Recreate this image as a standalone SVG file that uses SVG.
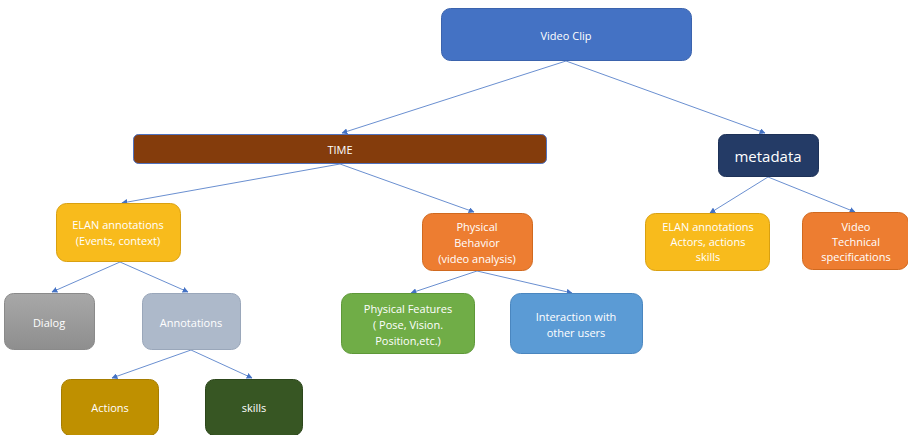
<svg xmlns="http://www.w3.org/2000/svg" width="908" height="435" viewBox="0 0 908 435">
  <style>
    .box { stroke-width: 1; }
    .lbl { font-family: "Open Sans", "Liberation Sans", sans-serif; font-size: 11px; fill: #ffffff; text-anchor: middle; dominant-baseline: central; }
    .big { font-size: 15px; }
    .edge { stroke: #4472C4; stroke-width: 0.8; fill: none; marker-end: url(#arr); }
  </style>
  <defs>
    <marker id="arr" viewBox="0 0 10 10" refX="9" refY="5" markerWidth="6" markerHeight="6" markerUnits="userSpaceOnUse" orient="auto">
      <path d="M0,0 L10,5 L0,10 z" fill="#4472C4"/>
    </marker>
    <linearGradient id="greyFill" x1="0" y1="0" x2="0" y2="1">
      <stop offset="0" stop-color="#A8A8A8"/>
      <stop offset="1" stop-color="#8E8E8E"/>
    </linearGradient>
  </defs>
  <rect width="908" height="435" fill="#ffffff"/>

  <g id="connectors">
    <line class="edge" x1="566" y1="61" x2="342" y2="133"/>
    <line class="edge" x1="566" y1="61" x2="765" y2="133"/>
    <line class="edge" x1="340" y1="164" x2="122" y2="203"/>
    <line class="edge" x1="340" y1="164" x2="474" y2="212"/>
    <line class="edge" x1="768" y1="177" x2="710" y2="213"/>
    <line class="edge" x1="768" y1="177" x2="855" y2="212"/>
    <line class="edge" x1="120" y1="262" x2="52" y2="292"/>
    <line class="edge" x1="120" y1="262" x2="188" y2="292"/>
    <line class="edge" x1="477" y1="271" x2="411" y2="293"/>
    <line class="edge" x1="477" y1="271" x2="572" y2="293"/>
    <line class="edge" x1="191" y1="350" x2="112" y2="378"/>
    <line class="edge" x1="191" y1="350" x2="252" y2="378"/>
  </g>

  <g id="video-clip">
    <rect class="box" x="441.5" y="8.5" width="250" height="52" rx="9" fill="#4472C4" stroke="#3B63AD"/>
    <text class="lbl" x="566" y="35">Video Clip</text>
  </g>
  <g id="time">
    <rect class="box" x="133.5" y="134.5" width="413" height="29" rx="5" fill="#843C0C" stroke="#4F72BF"/>
    <text class="lbl" x="340" y="149">TIME</text>
  </g>
  <g id="metadata">
    <rect class="box" x="718.5" y="134.5" width="100" height="42" rx="7" fill="#243B66" stroke="#1D3157"/>
    <text class="lbl big" x="768" y="156">metadata</text>
  </g>
  <g id="elan-events">
    <rect class="box" x="56.5" y="203.5" width="124" height="58" rx="10" fill="#F8BB1C" stroke="#D9A010"/>
    <text class="lbl" x="118" y="224">ELAN annotations</text>
    <text class="lbl" x="118" y="240">(Events, context)</text>
  </g>
  <g id="physical-behavior">
    <rect class="box" x="422.5" y="213.5" width="110" height="57" rx="10" fill="#ED7D31" stroke="#D0691F"/>
    <text class="lbl" x="477" y="226">Physical</text>
    <text class="lbl" x="477" y="242">Behavior</text>
    <text class="lbl" x="477" y="258">(video analysis)</text>
  </g>
  <g id="elan-actors">
    <rect class="box" x="645.5" y="213.5" width="124" height="57" rx="10" fill="#F8BB1C" stroke="#D9A010"/>
    <text class="lbl" x="708" y="226">ELAN annotations</text>
    <text class="lbl" x="708" y="241">Actors, actions</text>
    <text class="lbl" x="708" y="256">skills</text>
  </g>
  <g id="video-technical">
    <rect class="box" x="802.5" y="212.5" width="106" height="57" rx="10" fill="#ED7D31" stroke="#D0691F"/>
    <text class="lbl" x="856" y="226">Video</text>
    <text class="lbl" x="856" y="241">Technical</text>
    <text class="lbl" x="856" y="256">specifications</text>
  </g>
  <g id="dialog">
    <rect class="box" x="4.5" y="293.5" width="90" height="56" rx="9" fill="url(#greyFill)" stroke="#8A8A8A"/>
    <text class="lbl" x="49" y="322">Dialog</text>
  </g>
  <g id="annotations">
    <rect class="box" x="142.5" y="293.5" width="98" height="56" rx="9" fill="#ADB9CA" stroke="#9AA7BA"/>
    <text class="lbl" x="191" y="322">Annotations</text>
  </g>
  <g id="physical-features">
    <rect class="box" x="341.5" y="293.5" width="133" height="60" rx="10" fill="#70AD47" stroke="#5E9838"/>
    <text class="lbl" x="408" y="308">Physical Features</text>
    <text class="lbl" x="408" y="324">( Pose, Vision.</text>
    <text class="lbl" x="408" y="340">Position,etc.)</text>
  </g>
  <g id="interaction">
    <rect class="box" x="510.5" y="293.5" width="132" height="60" rx="10" fill="#5B9BD5" stroke="#4A86BF"/>
    <text class="lbl" x="576" y="316">Interaction with</text>
    <text class="lbl" x="576" y="332">other users</text>
  </g>
  <g id="actions">
    <rect class="box" x="61.5" y="379.5" width="97" height="56" rx="9" fill="#BF9000" stroke="#A67D00"/>
    <text class="lbl" x="110" y="407">Actions</text>
  </g>
  <g id="skills">
    <rect class="box" x="205.5" y="379.5" width="97" height="56" rx="9" fill="#375623" stroke="#2C461B"/>
    <text class="lbl" x="254" y="407">skills</text>
  </g>
</svg>
